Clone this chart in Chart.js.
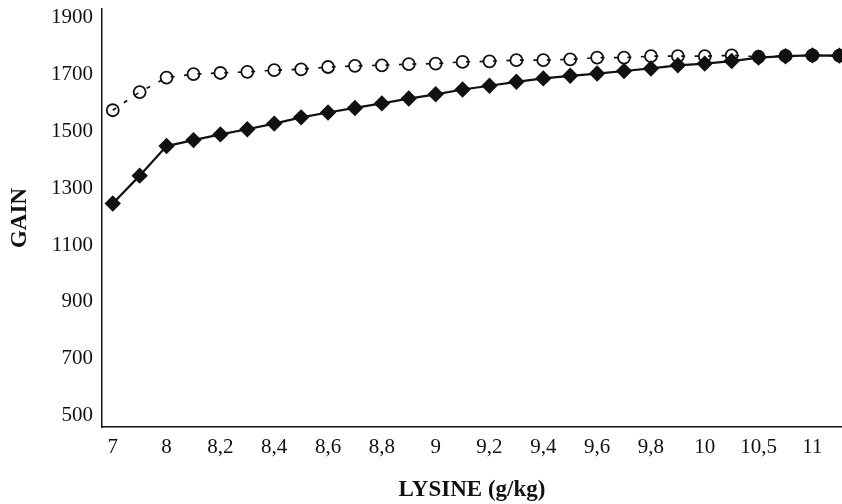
<!DOCTYPE html>
<html>
<head>
<meta charset="utf-8">
<script src="https://cdn.jsdelivr.net/npm/chart.js@4/dist/chart.umd.min.js"></script>
<style>
html,body{margin:0;padding:0;background:#fff;}
#wrap{width:842px;height:504px;position:relative;}
</style>
</head>
<body>
<div id="wrap"><canvas id="c"></canvas></div>
<script>
// Category labels (one per point; unlabeled points have empty strings)
const xLabels = ['7','','8','','8,2','','8,4','','8,6','','8,8','','9','','9,2','','9,4','','9,6','','9,8','','10','','10,5','','11',''];
// Solid line with filled diamonds
const gainDiamond = [1246,1344,1448,1469,1489,1507,1527,1549,1566,1582,1598,1615,1630,1647,1660,1674,1686,1695,1703,1712,1721,1732,1738,1747,1759,1764,1767,1766];
// Dashed line with hollow circles
const gainCircle = [1574,1638,1689,1701,1705,1709,1715,1718,1726,1730,1732,1736,1738,1744,1746,1750,1750,1753,1759,1759,1764,1764,1764,1767,1762,1765,1767,1766];
const yTicks = [500,700,900,1100,1300,1500,1700,1900];

const FONT = "'Liberation Serif','Times New Roman',serif";
Chart.defaults.font.family = FONT;
Chart.defaults.color = '#111';

const toPts = arr => arr.map((v,i)=>({x:i,y:v}));

new Chart(document.getElementById('c'), {
  type: 'line',
  data: {
    datasets: [
      {
        label: 'A',
        data: toPts(gainDiamond),
        borderColor: '#111',
        backgroundColor: '#111',
        borderWidth: 2.2,
        pointStyle: 'rectRot',
        pointRadius: 8.2,
        pointBorderWidth: 0,
        tension: 0,
        order: 0,
        clip: false
      },
      {
        label: 'B',
        data: toPts(gainCircle),
        borderColor: '#111',
        backgroundColor: 'rgba(0,0,0,0)',
        pointBackgroundColor: 'rgba(0,0,0,0)',
        pointBorderColor: '#111',
        borderWidth: 1.7,
        borderDash: [4, 9.45],
        pointStyle: 'circle',
        pointRadius: 6,
        pointBorderWidth: 1.8,
        tension: 0,
        order: 1,
        clip: false
      }
    ]
  },
  options: {
    responsive: true,
    maintainAspectRatio: false,
    animation: false,
    plugins: { legend: { display: false }, tooltip: { enabled: false } },
    layout: { autoPadding: false, padding: { top: 9, right: 0, left: 0, bottom: 0 } },
    scales: {
      x: {
        type: 'linear',
        min: -0.4,
        max: 27.1,
        afterBuildTicks: s => { s.ticks = xLabels.map((l,i)=>({value:i})); },
        afterFit: s => { s.height = 77; s.paddingLeft = 0; s.paddingRight = 0; },
        ticks: {
          autoSkip: false,
          maxRotation: 0,
          padding: 8,
          color: '#111',
          font: { size: 21 },
          callback: v => xLabels[v] ?? ''
        },
        grid: { display: true, drawOnChartArea: false, drawTicks: false },
        border: { display: true, color: '#111', width: 1.5 },
        title: {
          display: true,
          text: 'LYSINE (g/kg)',
          color: '#111',
          font: { size: 23, weight: 'bold' },
          padding: { top: 0, bottom: 0 }
        }
      },
      y: {
        type: 'linear',
        min: 460,
        max: 1930,
        afterBuildTicks: s => { s.ticks = yTicks.map(v=>({value:v})); },
        afterFit: s => { s.width = 102; s.paddingTop = 0; s.paddingBottom = 0; },
        ticks: {
          padding: 9,
          color: '#111',
          font: { size: 21 },
          callback: v => String(v)
        },
        grid: { display: true, drawOnChartArea: false, drawTicks: false },
        border: { display: true, color: '#111', width: 1.5 },
        title: {
          display: true,
          text: 'GAIN',
          color: '#111',
          font: { size: 23, weight: 'bold' },
          padding: { top: 6, bottom: 0 }
        }
      }
    }
  }
});
</script>
</body>
</html>
